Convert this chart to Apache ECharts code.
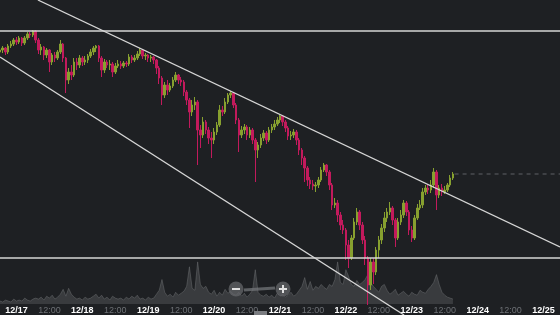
<!DOCTYPE html>
<html><head><meta charset="utf-8">
<script src="https://cdn.jsdelivr.net/npm/echarts@6/dist/echarts.min.js"></script>
<style>html,body{margin:0;padding:0;background:#1e2023;}#c{width:560px;height:315px;}</style>
</head><body><div id="c"></div>
<script>
// hours since 12/17 00:00, one candle per hour
const hours = [-6,-5,-4,-3,-2,-1,0,1,2,3,4,5,6,7,8,9,10,11,12,13,14,15,16,17,18,19,20,21,22,23,24,25,26,27,28,29,30,31,32,33,34,35,36,37,38,39,40,41,42,43,44,45,46,47,48,49,50,51,52,53,54,55,56,57,58,59,60,61,62,63,64,65,66,67,68,69,70,71,72,73,74,75,76,77,78,79,80,81,82,83,84,85,86,87,88,89,90,91,92,93,94,95,96,97,98,99,100,101,102,103,104,105,106,107,108,109,110,111,112,113,114,115,116,117,118,119,120,121,122,123,124,125,126,127,128,129,130,131,132,133,134,135,136,137,138,139,140,141,142,143,144,145,146,147,148,149,150,151,152,153,154,155,156,157,158,159];
const opens = [268,270,272,268,274,276,280,278,282,277,282,286,285,289,280,270,273,265,270,258,265,262,268,276,262,240,248,245,258,255,262,258,260,264,268,272,274,262,250,258,255,256,248,254,256,254,257,256,263,260,262,266,270,264,265,262,263,260,252,242,225,235,230,234,240,245,240,238,228,220,208,215,218,190,185,198,190,182,180,188,195,210,208,218,225,227,215,200,185,190,193,185,190,180,170,175,182,187,180,190,193,196,200,204,198,192,184,185,188,180,170,162,152,140,136,134,135,140,150,155,148,135,115,117,105,95,90,75,62,82,98,108,95,80,62,35,58,48,70,80,92,102,108,112,100,82,98,105,117,108,90,82,102,112,115,128,132,130,135,148,125,132,128,130,135,142];
const closes = [270,272,268,274,276,280,278,282,277,282,286,285,289,280,270,273,265,270,258,265,262,268,276,262,240,248,245,258,255,262,258,260,264,268,272,274,262,250,258,255,256,248,254,256,254,257,256,263,260,262,266,270,264,265,262,263,260,252,242,225,235,230,234,240,245,240,238,228,220,208,215,218,190,185,198,190,182,180,188,195,210,208,218,225,227,215,200,185,190,193,185,190,180,170,175,182,187,180,190,193,196,200,204,198,192,184,185,188,180,170,162,152,140,136,134,135,140,150,155,148,135,115,117,105,95,90,75,62,82,98,108,95,80,62,35,58,48,70,80,92,102,108,112,100,82,98,105,117,108,90,82,102,112,115,128,132,130,135,148,125,132,128,130,135,142,146];
const highs = [273,274,273,276,279,282,283,284,283,284,288,288,290,290,282,276,274,272,271,267,268,270,280,277,263,252,255,262,262,265,264,264,266,271,274,275,275,264,261,260,260,258,257,260,259,259,259,266,265,265,269,272,271,267,266,265,264,261,254,244,238,240,237,243,248,246,243,240,230,222,220,223,220,195,203,200,193,188,192,198,215,214,222,227,229,228,217,202,194,196,195,193,192,182,178,186,190,189,193,196,200,203,205,205,200,194,189,191,190,182,172,164,154,143,140,138,143,153,157,156,150,137,122,120,108,100,92,80,85,102,112,110,98,84,64,62,62,73,84,96,108,112,118,114,102,102,110,120,119,110,94,105,116,120,132,135,136,140,152,150,135,136,134,137,145,148];
const lows = [265,267,265,266,272,274,275,276,274,275,280,282,283,277,266,265,260,262,248,255,258,260,266,258,227,236,240,243,250,252,254,255,257,262,265,268,258,243,247,252,250,243,246,252,251,252,253,254,257,258,260,264,261,260,258,258,256,246,236,215,222,225,228,232,238,236,234,224,215,192,204,210,155,172,182,186,176,162,176,185,193,204,206,216,222,212,196,168,182,186,180,182,176,138,162,172,179,176,178,187,190,194,197,194,188,180,180,182,175,165,155,138,134,131,130,128,132,138,148,144,130,110,112,98,90,86,60,52,60,80,95,90,76,55,15,30,36,45,62,76,88,98,105,95,73,80,95,102,104,85,78,80,100,110,112,125,126,127,132,110,122,124,126,128,133,140];
const volumes = [3,2,4,3,2,5,3,4,3,6,4,3,5,6,5,7,4,8,6,9,5,7,10,15,8,16,10,7,5,6,4,7,5,6,8,10,6,9,5,7,4,8,6,5,6,4,7,5,8,6,9,5,6,4,7,5,6,10,14,25,12,8,10,7,12,9,11,13,18,38,16,14,43,20,16,18,12,10,14,8,12,9,15,11,13,10,9,12,8,11,7,10,14,35,12,9,8,10,7,9,6,11,8,10,7,9,12,8,10,14,18,27,15,23,14,18,16,20,17,15,20,18,25,43,22,20,35,28,20,18,24,20,22,25,30,22,18,15,12,18,20,14,10,12,15,9,11,13,10,8,12,10,9,14,12,11,15,18,22,30,20,12,9,7,6,5];
const dayLabels = ['12/17','12/18','12/19','12/20','12/21','12/22','12/23','12/24','12/25'];
const timeLabel = '12:00';
const resistanceLevel = 289;
const supportLevel = 62;
const upperTrend = [[7.8, 320], [198, 73]];
const lowerTrend = [[-6, 263], [141.2, 5]];
const lastPrice = 146;

const xMin = -6, xMax = 198;
const candleData = hours.map((h, i) => [h, opens[i], closes[i], lows[i], highs[i]]);
const volData = hours.map((h, i) => [h, volumes[i]]);
const lineColor = '#d6d6d6';

const chart = echarts.init(document.getElementById('c'), null, {renderer: 'canvas'});
chart.setOption({
  backgroundColor: '#1e2023',
  animation: false,
  grid: [
    {left: 0, right: 0, top: 0, bottom: 0},
    {left: 0, right: 0, top: 255, bottom: 10}
  ],
  xAxis: [
    {type: 'value', gridIndex: 0, min: xMin, max: xMax, show: false},
    {type: 'value', gridIndex: 1, min: xMin, max: xMax, interval: 6,
      axisLine: {show: false}, axisTick: {show: false}, splitLine: {show: false},
      axisLabel: {
        margin: 2, showMinLabel: false, showMaxLabel: false,
        formatter: function (v) {
          if (v < 0) return '';
          if (v % 24 === 0) return '{d|' + dayLabels[v / 24] + '}';
          if (v % 12 === 0) return '{t|' + timeLabel + '}';
          return '';
        },
        rich: {
          d: {color: '#ffffff', fontWeight: 'bold', fontSize: 9, fontFamily: 'Liberation Sans'},
          t: {color: '#6d7075', fontSize: 9, fontFamily: 'Liberation Sans'}
        }
      }}
  ],
  yAxis: [
    {type: 'value', gridIndex: 0, min: 5, max: 320, show: false},
    {type: 'value', gridIndex: 1, min: 0, max: 50, show: false}
  ],
  series: [
    {type: 'line', xAxisIndex: 1, yAxisIndex: 1, data: volData, showSymbol: false, z: 1,
      lineStyle: {width: 0.6, color: 'rgba(120,122,126,0.7)'},
      areaStyle: {color: 'rgba(95,97,101,0.6)'}},
    {type: 'candlestick', xAxisIndex: 0, yAxisIndex: 0, data: candleData, barWidth: 2, z: 3,
      encode: {x: 0, y: [1, 2, 3, 4]},
      itemStyle: {color: '#87a02f', color0: '#c21a5c', borderColor: '#87a02f', borderColor0: '#c21a5c', borderWidth: 1}},
    {type: 'line', data: [[xMin, resistanceLevel], [xMax, resistanceLevel]], showSymbol: false, z: 5,
      lineStyle: {color: lineColor, width: 1.5}},
    {type: 'line', data: [[xMin, supportLevel], [xMax, supportLevel]], showSymbol: false, z: 5,
      lineStyle: {color: lineColor, width: 1.5}},
    {type: 'line', data: upperTrend, showSymbol: false, z: 5, lineStyle: {color: lineColor, width: 1.3}},
    {type: 'line', data: lowerTrend, showSymbol: false, z: 5, lineStyle: {color: lineColor, width: 1.3}},
    {type: 'line', data: [[hours[hours.length - 1] + 0.6, lastPrice], [xMax, lastPrice]], showSymbol: false, z: 4,
      lineStyle: {color: '#5e6166', width: 1, type: [4, 4]}}
  ],
  graphic: [
    {type: 'line', shape: {x1: 244, y1: 290, x2: 275, y2: 288}, style: {stroke: 'rgba(115,117,121,0.75)', lineWidth: 3}, z: 10},
    {type: 'circle', shape: {cx: 236, cy: 289, r: 7.5}, style: {fill: 'rgba(100,102,106,0.75)'}, z: 10},
    {type: 'rect', shape: {x: 232, y: 288, width: 8, height: 2}, style: {fill: '#e0e0e0'}, z: 11},
    {type: 'circle', shape: {cx: 283, cy: 289, r: 7.5}, style: {fill: 'rgba(100,102,106,0.75)'}, z: 10},
    {type: 'rect', shape: {x: 279, y: 288, width: 8, height: 2}, style: {fill: '#e0e0e0'}, z: 11},
    {type: 'rect', shape: {x: 282, y: 285, width: 2, height: 8}, style: {fill: '#e0e0e0'}, z: 11},
    {type: 'rect', shape: {x: 254, y: 311, width: 13, height: 4}, style: {fill: '#7a7c80'}, z: 10}
  ]
});
</script></body></html>
